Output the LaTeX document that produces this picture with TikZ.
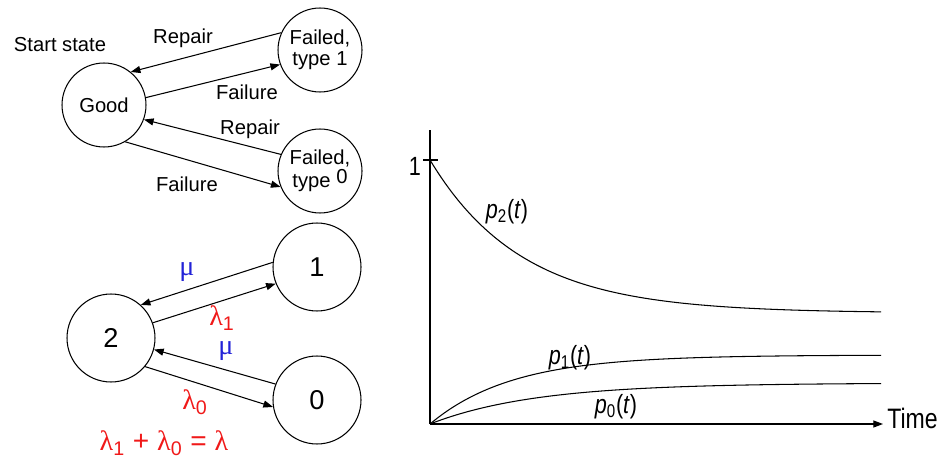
\documentclass[tikz,border=0pt]{standalone}
\usepackage{fontspec}
\setmainfont{Liberation Sans}
\newfontfamily\greekfont{Liberation Serif}
\usepackage{graphicx}
\usetikzlibrary{arrows.meta}

\definecolor{lamred}{RGB}{240,25,25}
\definecolor{mublue}{RGB}{35,35,215}
\newcommand{\glam}{{\greekfont λ}}
\newcommand{\gmu}{{\greekfont μ}}
\newcommand{\squeeze}[1]{\scalebox{0.82}[1]{#1}}

\begin{document}
\begin{tikzpicture}[x=0.02cm,y=-0.02cm,font=\fontsize{11.5}{12}\selectfont,
    state/.style={circle,draw,line width=0.6pt,minimum size=1.68cm,inner sep=0pt,align=center},
    numstate/.style={state,minimum size=1.76cm,font=\fontsize{15.5}{16}\selectfont},
    trans/.style={-{Triangle[length=5.5pt,width=4pt]},line width=0.6pt},
    rate/.style={font=\fontsize{16}{17}\selectfont,inner sep=0pt},
    curve/.style={line width=0.6pt},
    plotlabel/.style={font=\fontsize{15}{16}\selectfont}]
    \useasboundingbox (0,0) rectangle (942,462);

    % word chain
    \node[state] (good) at (104,105) {Good};
    \node[state] (fail1) at (320,50) {Failed,\\type 1};
    \node[state] (fail0) at (320,171) {Failed,\\type~\raisebox{2.5pt}{0}};
    \node (start) at (60,45) {Start state};

    \draw[trans] (fail1.156) -- (good.51);
    \draw[trans] (good.10) -- (fail1.200);
    \draw[trans] (fail0.157) -- (good.-20);
    \draw[trans] (good.-60) -- (fail0.202);

    \node (repair1) at (183,38) {Repair};
    \node (failure1) at (247,92) {Failure};
    \node (repair0) at (250,129) {Repair};
    \node (failure0) at (187,184) {Failure};

    % numbered chain
    \node[numstate] (s2) at (111,338) {2};
    \node[numstate] (s1) at (317,267) {1};
    \node[numstate] (s0) at (317,400) {0};

    \draw[trans] (s1.174) -- (s2.48);
    \draw[trans] (s2.20) -- (s1.202);
    \draw[trans] (s0.159) -- (s2.-15);
    \draw[trans] (s2.-40) -- (s0.189);

    \node[rate,text=mublue] (mu1) at (187,272) {\gmu};
    \node[rate,text=lamred] (lam1) at (222,318) {\glam\textsubscript{1}};
    \node[rate,text=mublue] (mu0) at (226,351) {\gmu};
    \node[rate,text=lamred] (lam0) at (195,402) {\glam\textsubscript{0}};
    \node[rate,text=lamred] (lamsum) at (164,443) {\glam\textsubscript{1} + \glam\textsubscript{0} = \glam};

    % plot
    \coordinate (origin) at (430,424);
    \coordinate (ytop) at (430,130);
    \coordinate (xend) at (883,424);
    \coordinate (tickL) at (423,160);
    \coordinate (tickR) at (438,160);

    \draw[curve] (origin) -- (ytop);
    \draw[trans] (origin) -- (xend);
    \draw[curve] (tickL) -- (tickR);
    \node[font=\fontsize{16}{17}\selectfont,anchor=west,inner sep=0pt] (time) at (887,418) {\squeeze{Time}};
    \node[font=\fontsize{15}{16}\selectfont] (one) at (415,166) {\squeeze{1}};

    \draw[curve] plot[domain=430:881,samples=120] (\x,{313-153*exp(-(\x-430)/92)});
    \draw[curve] plot[domain=430:881,samples=120] (\x,{424-69*(1-exp(-(\x-430)/82))});
    \draw[curve] plot[domain=430:881,samples=120] (\x,{424-41*(1-exp(-(\x-430)/105))});

    \node[plotlabel] (p2) at (507,212) {\squeeze{\textit{p}\textsubscript{2}(\textit{t})}};
    \node[plotlabel] (p1) at (570,358) {\squeeze{\textit{p}\textsubscript{1}(\textit{t})}};
    \node[plotlabel] (p0) at (616,407) {\squeeze{\textit{p}\textsubscript{0}(\textit{t})}};
\end{tikzpicture}
\end{document}
